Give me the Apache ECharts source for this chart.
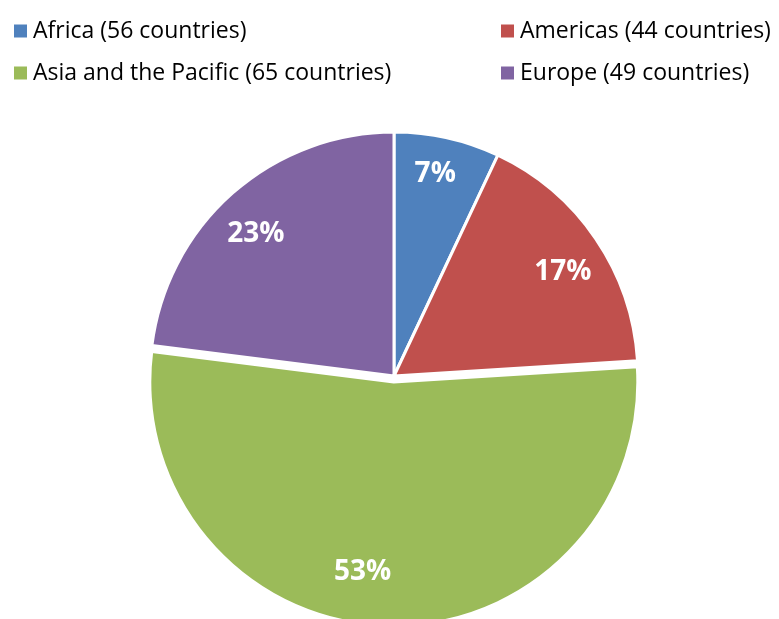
<!DOCTYPE html>
<html>
<head>
<meta charset="utf-8">
<script src="https://cdn.jsdelivr.net/npm/echarts@6/dist/echarts.min.js"></script>
<style>
  html, body { margin: 0; padding: 0; background: #fff; }
  #chart { width: 779px; height: 619px; }
</style>
</head>
<body>
<div id="chart"></div>
<script>
// Regions and their share of the total
const regions = ['Africa (56 countries)', 'Americas (44 countries)', 'Asia and the Pacific (65 countries)', 'Europe (49 countries)'];
const shares = [7, 17, 53, 23];
const colors = ['#4F81BD', '#C0504D', '#9BBB59', '#8064A2'];
const highlighted = 'Asia and the Pacific (65 countries)';

// fine placement of the percentage labels inside their wedges
const labelNudge = {
  'Africa (56 countries)': [-2, -9],
  'Americas (44 countries)': [5, 7],
  'Asia and the Pacific (65 countries)': [-25, -8],
  'Europe (49 countries)': [-7, 7]
};

const chart = echarts.init(document.getElementById('chart'));

const sliceData = regions.map((name, i) => ({
  name: name,
  value: shares[i],
  selected: name === highlighted,
  itemStyle: { color: colors[i] }
}));

const labelData = regions.map((name, i) => ({
  name: name,
  value: shares[i],
  selected: name === highlighted,
  label: { offset: labelNudge[name] },
  select: { label: { offset: labelNudge[name] } }
}));

const legendText = { fontFamily: 'Open Sans', fontSize: 23, lineHeight: 26, color: '#000' };
const legendItems = idx => idx.map(i => ({ name: regions[i], itemStyle: { color: colors[i] } }));

const center = [394, 376];
const R = 244;

chart.setOption({
  animation: false,
  legend: [
    {
      orient: 'vertical', left: 12, top: 18, padding: 0, itemWidth: 15, itemHeight: 15, itemGap: 16,
      icon: 'rect', textStyle: legendText, data: legendItems([0, 2]), selectedMode: false
    },
    {
      orient: 'vertical', left: 499, top: 18, padding: 0, itemWidth: 15, itemHeight: 15, itemGap: 16,
      icon: 'rect', textStyle: legendText, data: legendItems([1, 3]), selectedMode: false
    }
  ],
  series: [
    {
      type: 'pie',
      center: center,
      radius: [0, R],
      startAngle: 90,
      clockwise: true,
      selectedMode: 'multiple',
      selectedOffset: 6,
      silent: true,
      itemStyle: { borderColor: '#fff', borderWidth: 3 },
      label: { show: false },
      labelLine: { show: false },
      data: sliceData
    },
    {
      // label ring: places percentages at about 80% of the radius
      type: 'pie',
      center: center,
      radius: [R * 0.6, R],
      startAngle: 90,
      clockwise: true,
      selectedMode: 'multiple',
      selectedOffset: 6,
      silent: true,
      itemStyle: { color: 'rgba(0,0,0,0)' },
      label: {
        show: true, position: 'inside', formatter: '{c}%',
        color: '#fff', fontFamily: 'Open Sans', fontWeight: 'bold', fontSize: 28
      },
      labelLine: { show: false },
      data: labelData
    }
  ]
});
</script>
</body>
</html>
